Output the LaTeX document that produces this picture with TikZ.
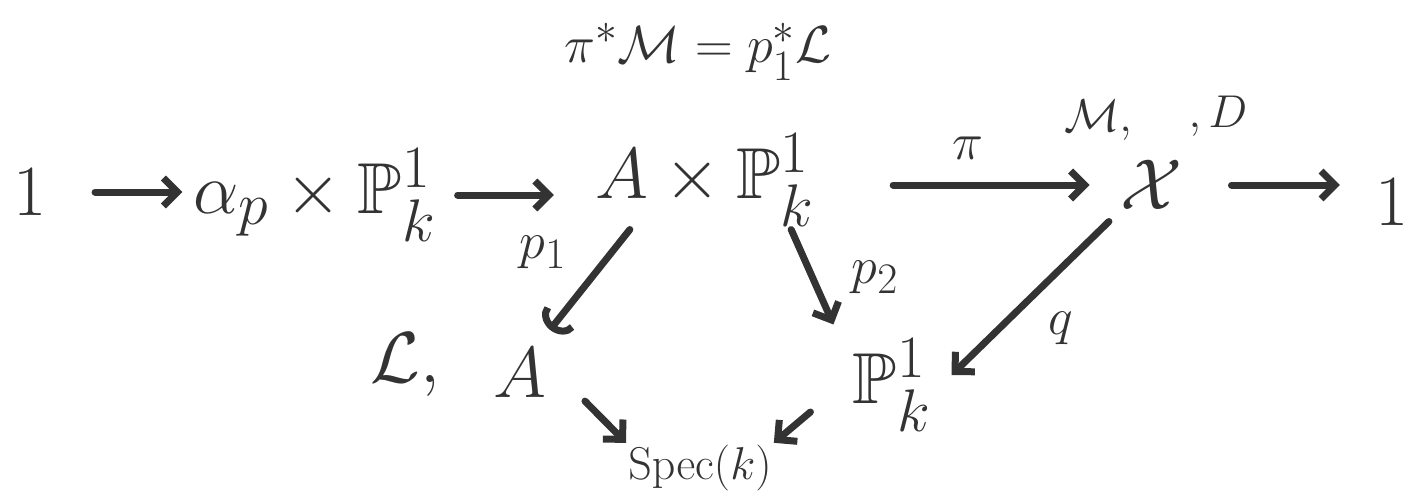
\documentclass[tikz,border=0pt]{standalone}
\usepackage{amssymb}
\usetikzlibrary{arrows.meta,positioning}

\begin{document}
\begin{tikzpicture}[
  x=1pt, y=1pt,
  obj/.style={font=\Huge, scale=2.9, text=black!80, inner sep=1pt},
  lbl/.style={font=\Huge, scale=2.1, text=black!80, inner sep=1pt},
  sml/.style={font=\Huge, scale=1.85, text=black!80, inner sep=1pt},
  arr/.style={-{Straight Barb[length=14pt, width=28pt]}, line width=7pt,
    draw=black!80, line cap=round},
  hook/.style={-{Arc Barb[length=16pt, width=38pt]}, line width=7pt,
    draw=black!80, line cap=round}
]
\useasboundingbox (0,0) rectangle (1409,-499);

% ── the exact sequence ──────────────────────────────────────────────────
\node[obj] (one) at (30,-192) {$1$};
\node[obj] (ap) at (315,-195) {$\alpha_p\times\mathbb{P}^1_k$};
\node[obj] (axp) at (705,-180) {$A\times\mathbb{P}^1_k$};
\node[obj] (x) at (1152,-185) {$\mathcal{X}$};
\node[obj] (onee) at (1392,-202) {$1$};
\draw[arr, shorten <=45pt, shorten >=8pt] (one.east) -- (one.east -| ap.west);
\draw[arr, shorten <=18pt, shorten >=38pt] (ap.east) -- (ap.east -| axp.west);
\draw[arr, shorten <=75pt, shorten >=28pt] (axp.east |- x) -- (x.west)
  node[lbl, midway, above=16pt] (pi) {$\pi$};
\draw[arr, shorten <=45pt, shorten >=32pt] (x.east) -- (x.east -| onee.west);

% ── sheaves ─────────────────────────────────────────────────────────────
\node[lbl] (pb) at (698,-52) {$\pi^*\mathcal{M}=p_1^*\mathcal{L}$};
\node[sml] (mm) at (1098,-120) {$\mathcal{M},$};
\node[sml] (dd) at (1218,-116) {$,D$};

% ── the square below ────────────────────────────────────────────────────
\node[obj] (a) at (520,-373) {$A$};
\node[obj] (ll) at (405,-365) {$\mathcal{L},$};
\node[obj] (pp) at (892,-385) {$\mathbb{P}^1_k$};
\node[sml] (spec) at (700,-468) {$\mathrm{Spec}(k)$};
\draw[hook] ([xshift=38pt]axp.south west) -- ([yshift=15pt]a.north east)
  node[lbl, midway, above left=2pt and 14pt] (p1) {$p_1$};
\draw[arr] ([xshift=-27pt]axp.south east) -- ([shift={(-16pt,11pt)}]pp.north west)
  node[lbl, midway, right=30pt] (p2) {$p_2$};
\draw[arr, shorten <=12pt] (x.south west) -- ([shift={(17pt,10pt)}]pp.east)
  node[lbl, midway, below right=8pt and 4pt] (q) {$q$};
\draw[arr] ([xshift=35pt]a.south east) -- (spec.north west);
\draw[arr] ([shift={(-39pt,-27pt)}]pp.west) -- (spec.north east);

\end{tikzpicture}
\end{document}
